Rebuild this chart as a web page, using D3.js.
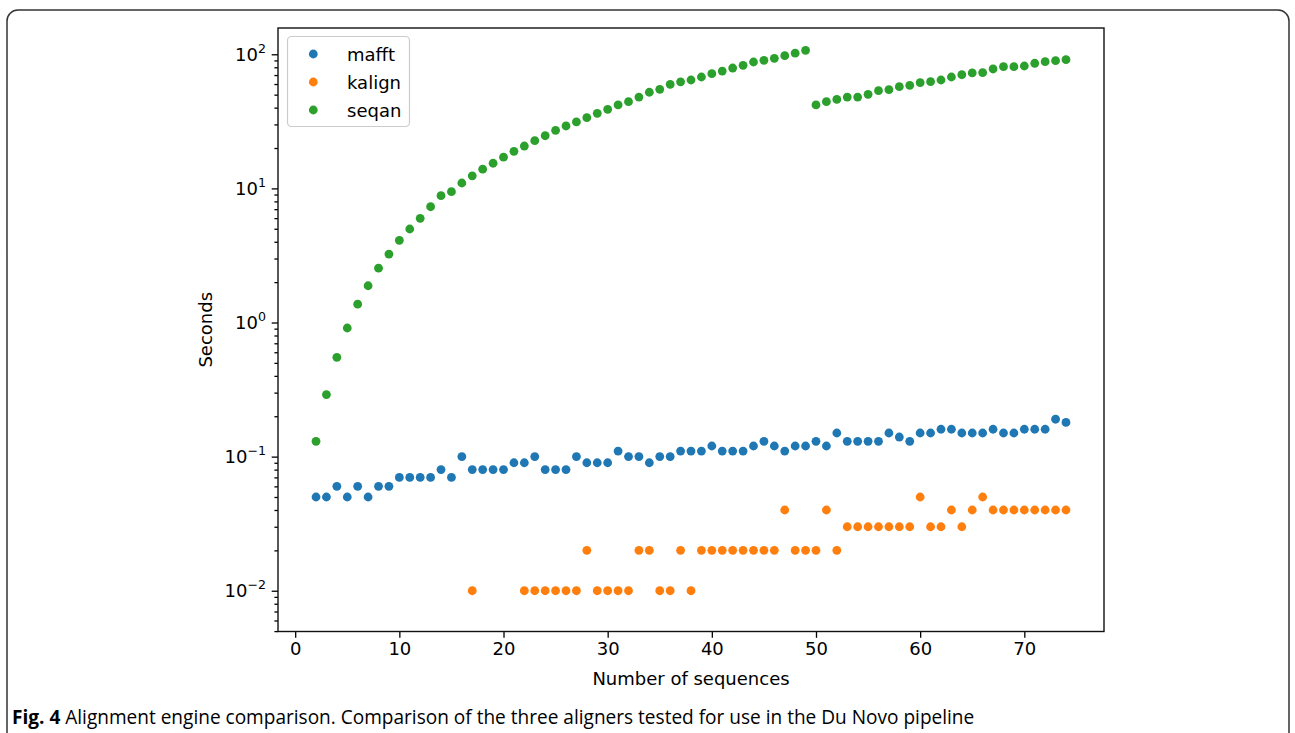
<!DOCTYPE html>
<html lang="en">
<head>
  <meta charset="UTF-8">
  <title>Alignment engine comparison</title>
  <script src="https://d3js.org/d3.v7.min.js"></script>
  <style>
    body { margin: 0; background: #fff; }
    svg text { font-family: "DejaVu Sans", sans-serif; fill: #000; }
    .tick line { stroke: #000; stroke-width: 1.3px; }
  </style>
</head>
<body>
<svg id="chart" width="1295" height="733"></svg>
<script>
// sequence counts (x) for mafft and seqan
const nSeqs = [2, 3, 4, 5, 6, 7, 8, 9, 10, 11, 12, 13, 14, 15, 16, 17, 18, 19, 20, 21,
  22, 23, 24, 25, 26, 27, 28, 29, 30, 31, 32, 33, 34, 35, 36, 37, 38, 39, 40, 41,
  42, 43, 44, 45, 46, 47, 48, 49, 50, 51, 52, 53, 54, 55, 56, 57, 58, 59, 60, 61,
  62, 63, 64, 65, 66, 67, 68, 69, 70, 71, 72, 73, 74];

const mafft = [0.05, 0.05, 0.06, 0.05, 0.06, 0.05, 0.06, 0.06, 0.07, 0.07, 0.07, 0.07, 0.08, 0.07,
  0.10, 0.08, 0.08, 0.08, 0.08, 0.09, 0.09, 0.10, 0.08, 0.08, 0.08, 0.10, 0.09, 0.09, 0.09, 0.11,
  0.10, 0.10, 0.09, 0.10, 0.10, 0.11, 0.11, 0.11, 0.12, 0.11, 0.11, 0.11, 0.12, 0.13, 0.12, 0.11,
  0.12, 0.12, 0.13, 0.12, 0.15, 0.13, 0.13, 0.13, 0.13, 0.15, 0.14, 0.13, 0.15, 0.15, 0.16, 0.16,
  0.15, 0.15, 0.15, 0.16, 0.15, 0.15, 0.16, 0.16, 0.16, 0.19, 0.18];

const seqan = [0.13, 0.29, 0.55, 0.91, 1.37, 1.88, 2.54, 3.24, 4.1, 4.98, 5.98, 7.3, 8.83, 9.45,
  10.97, 12.4, 13.9, 15.4, 17.1, 18.9, 20.7, 22.7, 24.7, 27.1, 29.2, 31.3, 33.7, 36.3, 38.9, 41.9,
  44.3, 48.0, 52.1, 54.8, 59.7, 62.3, 64.3, 67.7, 71.7, 75.0, 79.0, 82.8, 87.6, 90.2, 93.3, 97.7,
  102, 107, 41.9, 44.3, 46.1, 48.0, 48.0, 50.3, 53.5, 54.5, 57.3, 58.7, 61.4, 62.5, 64.3, 67.7,
  70.4, 72.6, 72.9, 77.7, 80.8, 80.8, 81.8, 85.7, 88.1, 89.6, 91.2];

// kalign timings of 0 s are not drawn on the log axis
const kalignX = [17, 22, 23, 24, 25, 26, 27, 28, 29, 30, 31, 32, 33, 34, 35, 36, 37, 38, 39, 40,
  41, 42, 43, 44, 45, 46, 47, 48, 49, 50, 51, 52, 53, 54, 55, 56, 57, 58, 59, 60,
  61, 62, 63, 64, 65, 66, 67, 68, 69, 70, 71, 72, 73, 74];
const kalign = [0.01, 0.01, 0.01, 0.01, 0.01, 0.01, 0.01, 0.02, 0.01, 0.01, 0.01, 0.01, 0.02, 0.02,
  0.01, 0.01, 0.02, 0.01, 0.02, 0.02, 0.02, 0.02, 0.02, 0.02, 0.02, 0.02, 0.04, 0.02, 0.02, 0.02,
  0.04, 0.02, 0.03, 0.03, 0.03, 0.03, 0.03, 0.03, 0.03, 0.05, 0.03, 0.03, 0.04, 0.03, 0.04, 0.05,
  0.04, 0.04, 0.04, 0.04, 0.04, 0.04, 0.04, 0.04];

const seriesNames = ["mafft", "kalign", "seqan"];
const xTicks = [0, 10, 20, 30, 40, 50, 60, 70];
const yExps = [-2, -1, 0, 1, 2];

const series = [
  { name: "mafft", color: "#1f77b4", xs: nSeqs, ys: mafft },
  { name: "kalign", color: "#ff7f0e", xs: kalignX, ys: kalign },
  { name: "seqan", color: "#2ca02c", xs: nSeqs, ys: seqan }
];

const svg = d3.select("#chart");
const plot = { left: 278, right: 1104, top: 28, bottom: 631.5 };

const x = d3.scaleLinear().domain([-1.65, 77.65]).range([plot.left, plot.right]);
const y = d3.scaleLog().domain([Math.pow(10, -2.304), Math.pow(10, 2.196)]).range([plot.bottom, plot.top]);

// outer figure border
svg.append("rect")
  .attr("x", 7).attr("y", 10)
  .attr("width", 1282).attr("height", 760)
  .attr("rx", 11)
  .attr("fill", "none")
  .attr("stroke", "#333")
  .attr("stroke-width", 1.5);

// x axis
const xAxis = svg.append("g")
  .attr("transform", "translate(0," + plot.bottom + ")")
  .call(d3.axisBottom(x).tickValues(xTicks).tickSize(6.3).tickPadding(4));
xAxis.select(".domain").remove();
xAxis.selectAll("text").attr("font-size", 18).attr("font-family", "DejaVu Sans").attr("fill", "#000");

// y axis, minor ticks
const minor = [];
for (let e = -3; e <= 2; e++) {
  for (let k = 2; k <= 9; k++) {
    const v = k * Math.pow(10, e);
    if (v > y.domain()[0] && v < y.domain()[1]) minor.push(v);
  }
}
svg.append("g")
  .attr("transform", "translate(" + plot.left + ",0)")
  .call(d3.axisLeft(y).tickValues(minor).tickSize(3.6).tickFormat(""))
  .call(g => g.select(".domain").remove());

const yAxis = svg.append("g")
  .attr("transform", "translate(" + plot.left + ",0)")
  .call(d3.axisLeft(y).tickValues(yExps.map(e => Math.pow(10, e))).tickSize(6.3).tickFormat(""));
yAxis.select(".domain").remove();

// y tick labels with superscript exponents
yExps.forEach(e => {
  const t = svg.append("text")
    .attr("x", plot.left - 12)
    .attr("y", y(Math.pow(10, e)) + 6.5)
    .attr("text-anchor", "end")
    .attr("font-size", 18);
  t.append("tspan").text("10");
  t.append("tspan")
    .attr("dy", -8)
    .attr("font-size", 12.6)
    .text(e < 0 ? "\u2212" + Math.abs(e) : String(e));
});

// plot frame
svg.append("rect")
  .attr("x", plot.left).attr("y", plot.top)
  .attr("width", plot.right - plot.left).attr("height", plot.bottom - plot.top)
  .attr("fill", "none")
  .attr("stroke", "#111")
  .attr("stroke-width", 1.4);

// points
series.forEach(s => {
  svg.append("g")
    .selectAll("circle")
    .data(s.ys.map((v, i) => [s.xs[i], v]))
    .join("circle")
    .attr("cx", d => x(d[0]))
    .attr("cy", d => y(d[1]))
    .attr("r", 4.4)
    .attr("fill", s.color);
});

// axis labels
svg.append("text")
  .attr("x", (plot.left + plot.right) / 2)
  .attr("y", 685)
  .attr("text-anchor", "middle")
  .attr("font-size", 18)
  .text("Number of sequences");

svg.append("text")
  .attr("transform", "translate(212," + ((plot.top + plot.bottom) / 2) + ") rotate(-90)")
  .attr("text-anchor", "middle")
  .attr("font-size", 18)
  .text("Seconds");

// legend
const legend = svg.append("g");
legend.append("rect")
  .attr("x", 287.5).attr("y", 36.5)
  .attr("width", 122).attr("height", 90)
  .attr("rx", 4)
  .attr("fill", "#fff").attr("fill-opacity", 0.8)
  .attr("stroke", "#ccc").attr("stroke-width", 1.2);
seriesNames.forEach((name, i) => {
  const s = series.find(d => d.name === name);
  legend.append("circle")
    .attr("cx", 313.3).attr("cy", 54 + i * 28)
    .attr("r", 4.4).attr("fill", s.color);
  legend.append("text")
    .attr("x", 347).attr("y", 54 + i * 28 + 6.5)
    .attr("font-size", 18)
    .text(name);
});

// caption, fit to the reference width
const cap = svg.append("text")
  .attr("x", 12).attr("y", 724)
  .attr("font-size", 19)
  .style("font-family", "'Open Sans', sans-serif");
cap.append("tspan").attr("font-weight", "bold").text("Fig. 4");
cap.append("tspan").text(" Alignment engine comparison. Comparison of the three aligners tested for use in the Du Novo pipeline");
const w = cap.node().getComputedTextLength();
cap.attr("font-size", 19 * 963 / w);
</script>
</body>
</html>
